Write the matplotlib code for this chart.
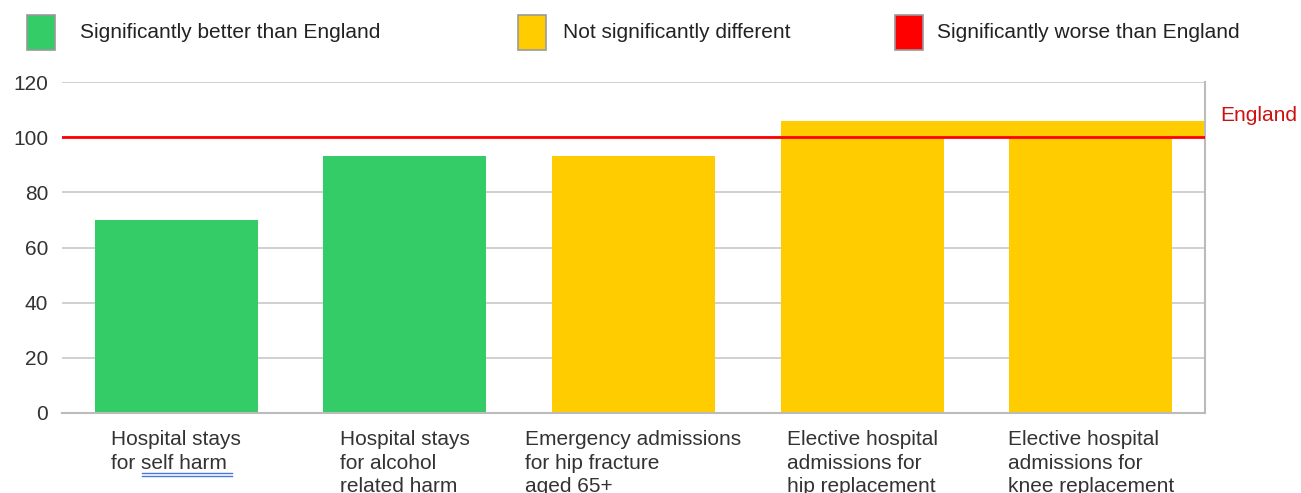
import matplotlib
matplotlib.use("Agg")
import matplotlib.pyplot as plt
from matplotlib.patches import Rectangle
from matplotlib.lines import Line2D
import matplotlib.transforms as mtransforms

categories = [
    "Hospital stays\nfor self harm",
    "Hospital stays\nfor alcohol\nrelated harm",
    "Emergency admissions\nfor hip fracture\naged 65+",
    "Elective hospital\nadmissions for\nhip replacement",
    "Elective hospital\nadmissions for\nknee replacement",
]
values = [70, 93, 93, 106, 106]
status = ["better", "better", "similar", "similar", "similar"]
england_value = 100
y_ticks = [0, 20, 40, 60, 80, 100, 120]

legend_labels = ["Significantly better than England", "Not significantly different",
                 "Significantly worse than England"]
colors = {"better": "#33CC66", "similar": "#FFCC00", "worse": "#FF0000"}

plt.rcParams['font.family'] = ['Liberation Sans', 'DejaVu Sans']
FS = 15
W, H = 1301, 493
fig = plt.figure(figsize=(W / 100, H / 100), dpi=100)
ax = fig.add_axes([62 / W, 80 / H, (1205 - 62) / W, (413 - 82) / H])

bar_w = 0.713
x = list(range(len(values)))
ax.bar(x, values, width=bar_w, color=[colors[s] for s in status], zorder=2)
# merged top fill seen in the source rendering
ax.fill_between([x[3] - bar_w / 2, len(values) - 0.5], england_value, values[3],
                color=colors["similar"], linewidth=0, zorder=2)
ax.axhline(england_value, color="#FF0000", linewidth=2, zorder=3)

ax.set_xlim(-0.5, len(values) - 0.5)
ax.set_ylim(0, 120)
ax.set_yticks(y_ticks)
ax.yaxis.grid(True, color="#c8c8c8", linewidth=1.2, zorder=0)
ax.set_axisbelow(True)
ax.tick_params(axis="y", length=0, pad=10, labelsize=FS, labelcolor="#333333")
ax.tick_params(axis="x", length=0, pad=12.5, labelsize=FS, labelcolor="#333333")
ax.set_xticks(x)
ax.set_xticklabels(categories)
for lbl in ax.get_xticklabels():
    lbl.set_multialignment("left")
    lbl.set_linespacing(1.3)
    lbl.set_verticalalignment("top")

for s in ["left", "top"]:
    ax.spines[s].set_visible(False)
for s in ["right", "bottom"]:
    ax.spines[s].set_color("#bbbbbb")
    ax.spines[s].set_linewidth(1.5)

trans = mtransforms.blended_transform_factory(ax.transAxes, ax.transData)
ax.text(1.013, 104.5, "England", transform=trans, color="#CC1111", fontsize=FS,
        ha="left", va="bottom")

# legend
sq_x = [27, 518, 895]
tx_x = [80, 563, 937]
for i, (lab, key) in enumerate(zip(legend_labels, ["better", "similar", "worse"])):
    fig.add_artist(Rectangle((sq_x[i] / W, (H - 50) / H), 28 / W, 35 / H,
                             transform=fig.transFigure, facecolor=colors[key],
                             edgecolor="#999999", linewidth=1.2))
    fig.text(tx_x[i] / W, (H - 33) / H, lab, fontsize=FS, color="#222222",
             ha="left", va="center")

# hyperlink underline under "self harm"
for yy in (473, 475.5):
    fig.add_artist(Line2D([142 / W, 232 / W], [(H - yy) / H, (H - yy) / H],
                          transform=fig.transFigure, color="#4a78d8", linewidth=1))

fig.savefig("out.png", dpi=100)
